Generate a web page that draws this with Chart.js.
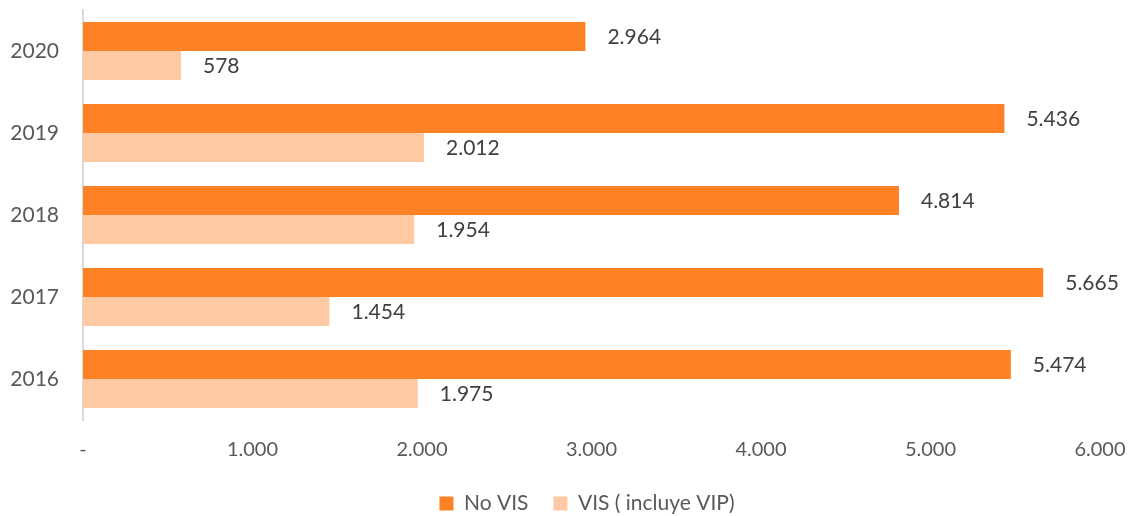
<!DOCTYPE html>
<html>
<head>
<meta charset="utf-8">
<script src="https://cdn.jsdelivr.net/npm/chart.js@4"></script>
<style>
  html, body { margin: 0; padding: 0; background: #fff; }
  #wrap { width: 1137px; height: 516px; }
</style>
</head>
<body>
<div id="wrap"><canvas id="mainChart"></canvas></div>
<script>
const years = ['2020', '2019', '2018', '2017', '2016'];
const noVis = [2964, 5436, 4814, 5665, 5474];
const vis = [578, 2012, 1954, 1454, 1975];
const seriesNames = ['No VIS', 'VIS ( incluye VIP)'];
const xTicks = [0, 1000, 2000, 3000, 4000, 5000, 6000];

function fmt(v) {
    if (v === 0) return '-';
    return v.toString().replace(/\B(?=(\d{3})+(?!\d))/g, '.');
}

// labels next to every bar
const valueLabels = {
    id: 'valueLabels',
    afterLayout(chart) {
        // center legend on the whole canvas, not only left of the right padding
        chart.legend.left += 37;
        chart.legend.right += 37;
    },
    afterDatasetsDraw(chart) {
        const ctx = chart.ctx;
        ctx.save();
        ctx.font = '21px Lato';
        ctx.fillStyle = '#404040';
        ctx.textAlign = 'left';
        ctx.textBaseline = 'middle';
        chart.data.datasets.forEach((ds, i) => {
            chart.getDatasetMeta(i).data.forEach((bar, j) => {
                ctx.fillText(fmt(ds.data[j]), bar.x + 22, bar.y + 1);
            });
        });
        ctx.restore();
    }
};

new Chart(document.getElementById('mainChart'), {
    type: 'bar',
    data: {
        labels: years,
        datasets: [{
            label: seriesNames[0],
            data: noVis,
            backgroundColor: '#FE8125'
        }, {
            label: seriesNames[1],
            data: vis,
            backgroundColor: '#FFCAA3'
        }]
    },
    options: {
        indexAxis: 'y',
        responsive: true,
        maintainAspectRatio: false,
        animation: false,
        layout: { padding: { top: 10, right: 37, bottom: -8, left: 0 } },
        datasets: { bar: { categoryPercentage: 0.71, barPercentage: 1 } },
        scales: {
            x: {
                min: 0,
                max: 6000,
                afterBuildTicks: (s) => { s.ticks = xTicks.map(v => ({ value: v })); },
                grid: { display: false, drawTicks: false },
                border: { display: false },
                ticks: {
                    padding: 18,
                    color: '#595959',
                    font: { family: 'Lato', size: 20 },
                    callback: (v) => fmt(v)
                },
                afterFit: (s) => { s.height = 48; s.paddingLeft = 0; s.paddingRight = 0; }
            },
            y: {
                grid: { display: false, drawTicks: false },
                border: { display: true, color: '#D9D9D9', width: 2 },
                ticks: {
                    padding: 24,
                    color: '#595959',
                    font: { family: 'Lato', size: 21 }
                },
                afterFit: (s) => { s.width = 83; s.paddingTop = 0; s.paddingBottom = 0; }
            }
        },
        plugins: {
            legend: {
                position: 'bottom',
                labels: {
                    boxWidth: 14,
                    boxHeight: 14,
                    padding: 25,
                    color: '#595959',
                    font: { family: 'Lato', size: 21 }
                }
            },
            tooltip: { enabled: false }
        }
    },
    plugins: [valueLabels]
});
</script>
</body>
</html>
